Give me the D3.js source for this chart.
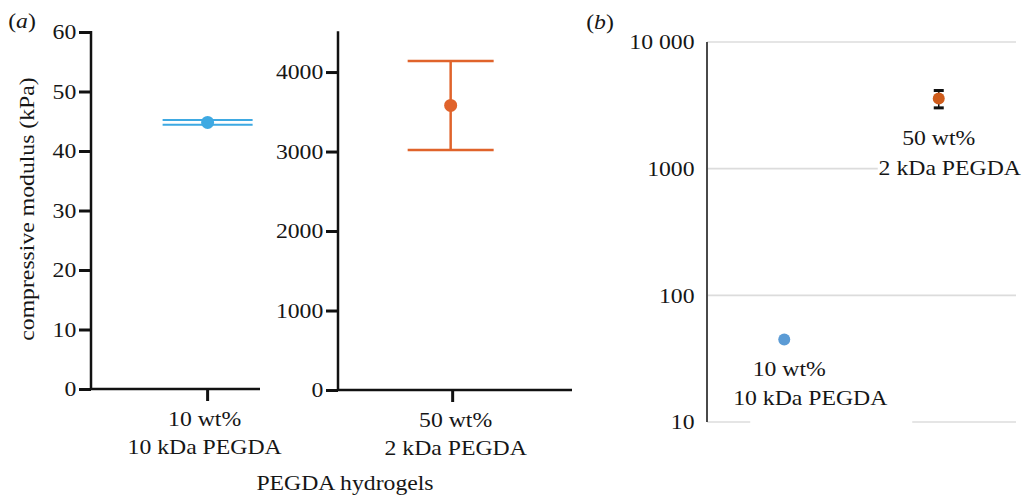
<!DOCTYPE html>
<html>
<head>
<meta charset="utf-8">
<script src="https://cdn.jsdelivr.net/npm/d3@7"></script>
<style>
  body { margin: 0; background: #fff; }
  svg { display: block; }
  text { font-family: 'Liberation Serif', 'Times New Roman', serif; fill: #161616; }
</style>
</head>
<body>
<svg id="chart" width="1023" height="496"></svg>
<script>
// data
var groups = ["10 wt%\n10 kDa PEGDA", "50 wt%\n2 kDa PEGDA"];
var means = [44.8, 3580];
var errs = [0.4, 560];
var ticksA1 = [0, 10, 20, 30, 40, 50, 60];
var ticksA2 = [0, 1000, 2000, 3000, 4000];
var ticksB = [10, 100, 1000, 10000];
var ticksBLabels = ["10", "100", "1000", "10 000"];

var SX = 1.13; // glyphs in the figure are a bit wider than Times
var FS = 21;

var svg = d3.select("#chart");

function label(g, x, y, txt, anchor, rot) {
  return g.append("text")
    .attr("transform", `translate(${x},${y})` + (rot ? " rotate(-90)" : "") + ` scale(${SX},1)`)
    .attr("text-anchor", anchor || "middle")
    .attr("font-size", FS)
    .text(txt);
}

function twoLines(g, x, y, txt, gap) {
  var parts = txt.split("\n");
  label(g, x, y, parts[0]);
  label(g, x, y + gap, parts[1]);
}

function styleAxis(sel, w) {
  sel.select(".domain").remove();
  sel.selectAll(".tick line").attr("stroke", "#111").attr("stroke-width", w);
  sel.selectAll(".tick text")
    .attr("font-size", FS)
    .attr("transform", `scale(${SX},1)`);
}

// ---------- panel (a) ----------
function drawLinearPanel(cfg) {
  var y = d3.scaleLinear().domain(cfg.domain).range([cfg.y0, cfg.y1]);
  var x = d3.scalePoint().domain([cfg.cat]).range([cfg.x0, cfg.x1]).align(cfg.align);

  var gy = svg.append("g").attr("transform", `translate(${cfg.x0},0)`)
    .call(d3.axisLeft(y).tickValues(cfg.ticks).tickFormat(d3.format("d"))
      .tickSize(12).tickPadding(1).tickSizeOuter(0));
  styleAxis(gy, 3);

  // axis lines
  svg.append("line").attr("x1", cfg.x0).attr("x2", cfg.x0)
    .attr("y1", y(cfg.domain[1]) - 1).attr("y2", cfg.y0 + 1)
    .attr("stroke", "#111").attr("stroke-width", 2.5);
  svg.append("line").attr("x1", cfg.x0).attr("x2", cfg.x1)
    .attr("y1", cfg.y0).attr("y2", cfg.y0)
    .attr("stroke", "#111").attr("stroke-width", 2.5);

  // x tick
  svg.append("line").attr("x1", x(cfg.cat)).attr("x2", x(cfg.cat))
    .attr("y1", cfg.y0).attr("y2", cfg.y0 + 12)
    .attr("stroke", "#111").attr("stroke-width", 3);

  twoLines(svg, x(cfg.cat) + cfg.labDx, cfg.y0 + 37, cfg.cat, 28);

  // error bar
  var cx = x(cfg.cat) + cfg.ptDx;
  var eb = svg.append("g").attr("stroke", cfg.color).attr("stroke-width", cfg.ebW);
  eb.append("line").attr("x1", cx).attr("x2", cx)
    .attr("y1", y(cfg.mean + cfg.err)).attr("y2", y(cfg.mean - cfg.err));
  [cfg.mean + cfg.err, cfg.mean - cfg.err].forEach(function(v) {
    eb.append("line").attr("x1", cx - cfg.cap).attr("x2", cx + cfg.cap)
      .attr("y1", y(v)).attr("y2", y(v));
  });
  svg.append("circle").attr("cx", cx).attr("cy", y(cfg.mean)).attr("r", 6.5)
    .attr("fill", cfg.color);
}

drawLinearPanel({
  cat: groups[0], mean: means[0], err: errs[0], domain: [0, 60], ticks: ticksA1,
  x0: 91, x1: 260, y0: 389, y1: 32, align: 0.69, color: "#3ea9e2", cap: 45,
  ebW: 2, ptDx: 0, labDx: -3
});
drawLinearPanel({
  cat: groups[1], mean: means[1], err: errs[1], domain: [0, 4500], ticks: ticksA2,
  x0: 338, x1: 572, y0: 390, y1: 32.3, align: 0.49, color: "#e0632b", cap: 43,
  ebW: 2.5, ptDx: -2, labDx: 3
});

svg.append("text").attr("transform", `translate(22,28) scale(${SX},1)`)
  .attr("font-size", FS).attr("text-anchor", "middle")
  .html("(<tspan font-style='italic'>a</tspan>)");

label(svg, 34, 209, "compressive modulus (kPa)", "middle", true);
label(svg, 345, 490, "PEGDA hydrogels");

// ---------- panel (b) ----------
var bx0 = 707, bx1 = 1016, by0 = 422, by1 = 42;
var yB = d3.scaleLog().domain([10, 10000]).range([by0, by1]);
var xB = d3.scalePoint().domain(groups).range([bx0, bx1]).padding(0.5);

svg.append("g").selectAll("line").data(ticksB).enter().append("line")
  .attr("x1", bx0).attr("x2", bx1)
  .attr("y1", function(d) { return yB(d); }).attr("y2", function(d) { return yB(d); })
  .attr("stroke", "#dcdcdc").attr("stroke-width", 1.6);

svg.append("line").attr("x1", bx0).attr("x2", bx0).attr("y1", by1).attr("y2", by0)
  .attr("stroke", "#4a4a4a").attr("stroke-width", 2);

var gb = svg.append("g").attr("transform", `translate(${bx0},0)`)
  .call(d3.axisLeft(yB).tickValues(ticksB).tickSize(0).tickPadding(11)
    .tickFormat(function(d, i) { return ticksBLabels[i]; }));
styleAxis(gb, 0);

svg.append("text").attr("transform", `translate(600,29) scale(${SX},1)`)
  .attr("font-size", FS).attr("text-anchor", "middle")
  .html("(<tspan font-style='italic'>b</tspan>)");

// white label boxes over the gridlines, then labels
var bLab = [
  { box: [-34, 128, -28, 4], dx: [5, 26], dy: [36, 65] },
  { box: [-61, 84, -50, 6], dx: [0, 11], dy: [46, 76] }
];
groups.forEach(function(gname, i) {
  var cx = xB(gname), cy = yB(means[i]);
  var L = bLab[i];
  var by = i === 0 ? by0 : yB(1000);
  svg.append("rect").attr("x", cx + L.box[0]).attr("width", L.box[1] - L.box[0])
    .attr("y", by + L.box[2]).attr("height", L.box[3] - L.box[2]).attr("fill", "#fff");
  var parts = gname.split("\n");
  label(svg, cx + L.dx[0], cy + L.dy[0], parts[0]);
  label(svg, cx + L.dx[1], cy + L.dy[1], parts[1]);
});

var colB = ["#5b9bd5", "#cf5c1b"];
groups.forEach(function(gname, i) {
  var cx = xB(gname);
  var eb = svg.append("g").attr("stroke", "#111").attr("stroke-width", 3);
  eb.append("line").attr("x1", cx).attr("x2", cx)
    .attr("y1", yB(means[i] + errs[i])).attr("y2", yB(means[i] - errs[i]))
    .attr("stroke-width", 1.5);
  [means[i] + errs[i], means[i] - errs[i]].forEach(function(v) {
    eb.append("line").attr("x1", cx - 5).attr("x2", cx + 5)
      .attr("y1", yB(v)).attr("y2", yB(v));
  });
  svg.append("circle").attr("cx", cx).attr("cy", yB(means[i])).attr("r", 6)
    .attr("fill", colB[i]);
});
</script>
</body>
</html>
